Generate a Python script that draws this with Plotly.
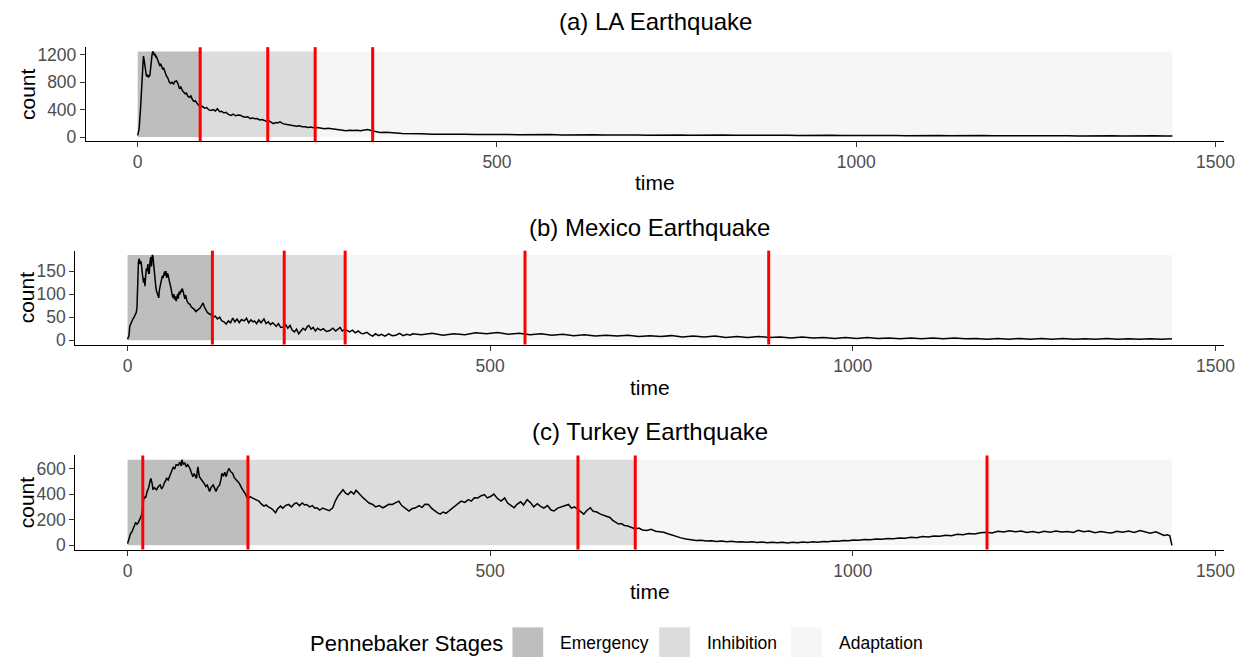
import plotly.graph_objects as go

W, H = 1255, 662
FONT = "Liberation Sans, Arial, sans-serif"

panel_titles = ["(a) LA Earthquake", "(b) Mexico Earthquake", "(c) Turkey Earthquake"]
stage_names = ["Emergency", "Inhibition", "Adaptation"]
stage_colors = ["#bebebe", "#dcdcdc", "#f6f6f6"]
x_ticks = [0, 500, 1000, 1500]
time_end = 1440

# (a) LA earthquake: (minute, tweet count)
la_series = [
    (0, 25), (2, 120), (4, 420), (6, 800), (7, 1050), (8, 1180), (9, 1120), (10, 1030), (11, 960), (12, 900),
    (13, 880), (14, 910), (15, 870), (16, 880), (17, 900), (18, 1000), (19, 1150), (20, 1200), (21, 1248), (22, 1230),
    (23, 1190), (24, 1215), (25, 1170), (26, 1176), (28, 1120), (30, 1060), (31, 1033), (32, 1070), (34, 990), (35, 985),
    (36, 1010), (38, 940), (40, 890), (42, 860), (44, 800), (46, 780), (48, 800), (50, 775), (52, 810), (54, 818),
    (56, 780), (58, 713), (60, 730), (62, 680), (64, 650), (66, 630), (68, 640), (70, 590), (72, 578), (74, 600),
    (76, 550), (78, 520), (80, 530), (82, 490), (84, 470), (86, 455), (88, 440), (90, 450), (93, 420), (96, 430),
    (99, 395), (102, 387), (105, 400), (108, 380), (111, 412), (114, 370), (117, 375), (120, 350), (123, 360), (126, 330),
    (130, 316), (133, 335), (136, 310), (140, 320), (143, 316), (146, 300), (150, 290), (153, 295), (157, 268), (160, 280),
    (163, 265), (166, 270), (170, 250), (173, 255), (175, 244), (179, 230), (182, 240), (186, 215), (189, 196), (192, 210),
    (195, 205), (198, 220), (202, 195), (206, 185), (210, 180), (214, 175), (218, 168), (221, 158), (225, 165), (229, 150),
    (233, 150), (237, 140), (241, 145), (245, 134), (250, 138), (255, 130), (260, 120), (265, 128), (270, 118), (275, 110),
    (280, 105), (285, 98), (290, 91), (295, 100), (300, 95), (305, 100), (310, 92), (315, 105), (320, 110), (325, 95),
    (330, 80), (337, 67), (345, 70), (352, 60), (360, 58), (368, 50), (376, 52), (383, 43), (395, 46), (410, 40),
    (425, 43), (440, 38), (455, 41), (470, 36), (485, 39), (500, 34), (515, 38), (530, 33), (545, 36), (560, 32),
    (575, 35), (590, 31), (605, 34), (620, 30), (635, 33), (650, 29), (665, 32), (680, 28), (695, 31), (710, 27),
    (725, 30), (740, 27), (755, 29), (770, 26), (785, 29), (800, 25), (815, 28), (830, 25), (845, 27), (860, 24),
    (875, 27), (890, 24), (905, 26), (920, 23), (935, 26), (950, 22), (965, 25), (980, 22), (995, 24), (1010, 21),
    (1025, 24), (1040, 21), (1055, 23), (1070, 20), (1085, 23), (1100, 20), (1115, 22), (1130, 19), (1145, 22), (1160, 19),
    (1175, 21), (1190, 18), (1205, 21), (1220, 18), (1235, 20), (1250, 17), (1265, 20), (1280, 17), (1295, 19), (1310, 16),
    (1325, 19), (1340, 16), (1355, 18), (1370, 15), (1385, 18), (1400, 15), (1415, 17), (1430, 14), (1440, 15),
]
la_stage_bounds = [0, 87, 247, time_end]
la_breaks = [87, 181, 247, 327]
la_y_ticks = [0, 400, 800, 1200]

# (b) Mexico earthquake
mx_series = [
    (0, 2), (2, 10), (3, 30), (5, 39), (7, 45), (9, 50), (10, 53), (12, 60), (13, 71), (14, 141),
    (15, 170), (16, 177), (17, 165), (18, 172), (19, 166), (20, 150), (21, 134), (22, 125), (23, 135), (24, 117),
    (25, 140), (26, 156), (27, 150), (28, 165), (29, 145), (30, 145), (31, 170), (32, 180), (33, 160), (34, 185),
    (35, 182), (36, 160), (37, 141), (38, 125), (39, 115), (40, 106), (41, 100), (42, 95), (43, 92), (44, 110),
    (45, 120), (46, 125), (47, 131), (48, 140), (49, 135), (50, 148), (51, 149), (52, 140), (53, 150), (54, 135),
    (55, 145), (56, 141), (57, 130), (58, 125), (59, 120), (60, 110), (61, 100), (62, 95), (63, 92), (64, 100),
    (65, 88), (66, 95), (67, 85), (68, 92), (69, 100), (70, 90), (71, 105), (72, 99), (73, 108), (74, 104),
    (75, 112), (76, 110), (77, 100), (78, 95), (79, 90), (80, 98), (81, 88), (82, 85), (84, 80), (86, 78),
    (88, 72), (90, 70), (92, 67), (94, 62), (96, 65), (98, 66), (100, 70), (102, 75), (104, 81), (106, 72),
    (108, 64), (110, 60), (112, 58), (115, 55), (118, 50), (121, 52), (124, 46), (127, 50), (130, 42), (133, 40),
    (136, 35), (139, 42), (142, 38), (145, 48), (148, 40), (151, 46), (154, 38), (157, 45), (161, 42), (164, 48),
    (167, 38), (170, 44), (173, 40), (175, 42), (178, 36), (181, 44), (184, 38), (188, 46), (191, 36), (194, 40),
    (197, 34), (200, 38), (202, 35), (205, 30), (208, 36), (211, 28), (215, 28), (218, 34), (221, 26), (224, 32),
    (227, 22), (230, 18), (233, 24), (236, 14), (239, 20), (242, 26), (245, 22), (248, 30), (250, 32), (253, 24),
    (256, 28), (259, 20), (262, 26), (266, 22), (270, 25), (274, 19), (279, 21), (283, 26), (287, 20), (290, 25),
    (293, 28), (296, 20), (300, 24), (303, 21), (306, 18), (310, 22), (314, 16), (318, 20), (322, 15), (325, 14),
    (330, 17), (334, 12), (338, 9), (342, 14), (346, 10), (350, 13), (355, 9), (360, 14), (365, 10), (370, 11),
    (375, 15), (380, 10), (385, 13), (390, 11), (393, 14), (405, 12), (420, 15), (435, 11), (450, 14), (465, 12),
    (480, 16), (495, 14), (510, 17), (525, 13), (540, 15), (555, 12), (570, 14), (585, 11), (600, 13), (615, 10),
    (630, 12), (645, 9), (660, 11), (675, 9), (690, 11), (705, 8), (720, 10), (735, 8), (750, 10), (765, 7),
    (780, 9), (795, 7), (810, 9), (825, 6), (840, 8), (855, 6), (870, 8), (885, 6), (900, 7), (915, 5),
    (930, 7), (945, 5), (960, 6), (975, 4), (990, 6), (1005, 4), (1020, 6), (1035, 4), (1050, 5), (1065, 3),
    (1080, 5), (1095, 3), (1110, 5), (1125, 3), (1140, 5), (1155, 3), (1170, 4), (1185, 2), (1200, 4), (1215, 2),
    (1230, 4), (1245, 2), (1260, 4), (1275, 2), (1290, 4), (1305, 2), (1320, 3), (1335, 2), (1350, 4), (1365, 2),
    (1380, 3), (1395, 2), (1410, 3), (1425, 2), (1440, 3),
]
mx_stage_bounds = [0, 117, 300, time_end]
mx_breaks = [117, 216, 300, 548, 884]
mx_y_ticks = [0, 50, 100, 150]

# (c) Turkey earthquake
tr_series = [
    (0, 13), (2, 50), (4, 89), (6, 105), (8, 128), (10, 160), (11, 179), (13, 165), (15, 179), (17, 200),
    (19, 230), (21, 290), (22, 357), (24, 380), (25, 370), (27, 420), (29, 447), (31, 500), (32, 523), (34, 480),
    (35, 434), (37, 450), (40, 434), (42, 455), (45, 472), (47, 440), (49, 459), (51, 490), (54, 523), (56, 510),
    (58, 541), (60, 575), (63, 612), (65, 595), (67, 630), (70, 625), (72, 650), (74, 620), (75, 668), (77, 630),
    (79, 645), (81, 612), (83, 630), (86, 600), (88, 570), (90, 536), (92, 560), (95, 523), (97, 612), (99, 536),
    (101, 520), (104, 498), (106, 480), (108, 459), (110, 470), (113, 421), (115, 450), (118, 472), (120, 440), (122, 421),
    (124, 450), (127, 472), (129, 520), (130, 561), (132, 540), (134, 570), (136, 536), (138, 580), (140, 600), (142, 575),
    (145, 561), (147, 530), (150, 510), (152, 495), (154, 485), (157, 450), (159, 434), (161, 420), (163, 396), (166, 357),
    (169, 380), (172, 370), (175, 360), (178, 350), (181, 345), (184, 325), (188, 306), (191, 315), (194, 300), (197, 293),
    (200, 280), (204, 255), (207, 285), (211, 306), (214, 290), (218, 312), (222, 319), (226, 300), (230, 325), (233, 332),
    (237, 310), (241, 330), (244, 315), (247, 319), (251, 300), (255, 310), (258, 290), (261, 293), (265, 275), (269, 290),
    (274, 281), (278, 270), (283, 293), (286, 340), (290, 383), (294, 410), (297, 434), (301, 405), (304, 396), (308, 420),
    (312, 400), (315, 429), (318, 410), (321, 390), (325, 370), (329, 350), (333, 330), (338, 319), (342, 300), (347, 310),
    (352, 293), (356, 305), (360, 320), (365, 319), (369, 330), (374, 345), (378, 310), (383, 290), (388, 268), (392, 285),
    (397, 293), (402, 310), (406, 295), (410, 320), (415, 319), (419, 290), (423, 270), (427, 255), (431, 243), (435, 260),
    (439, 250), (443, 268), (447, 290), (451, 310), (456, 332), (460, 345), (465, 335), (470, 357), (474, 345), (478, 372),
    (483, 370), (487, 385), (492, 396), (496, 370), (501, 383), (505, 400), (510, 365), (515, 345), (520, 370), (524, 330),
    (529, 310), (533, 293), (537, 320), (542, 340), (546, 315), (551, 357), (556, 330), (560, 300), (565, 325), (569, 306),
    (574, 290), (579, 310), (584, 275), (588, 268), (593, 290), (598, 300), (603, 310), (608, 319), (612, 290), (616, 300),
    (621, 281), (625, 265), (629, 243), (633, 270), (638, 293), (642, 265), (647, 260), (652, 243), (656, 235), (661, 225),
    (665, 217), (669, 195), (673, 180), (677, 166), (681, 170), (685, 155), (689, 153), (693, 145), (697, 140), (700, 128),
    (705, 135), (710, 120), (716, 115), (722, 125), (728, 110), (734, 108), (739, 102), (745, 90), (751, 78), (757, 64),
    (763, 58), (770, 50), (777, 44), (784, 38), (791, 40), (798, 33), (805, 36), (812, 30), (819, 33), (826, 28),
    (833, 31), (840, 26), (847, 28), (854, 24), (861, 27), (868, 22), (875, 25), (882, 20), (889, 24), (896, 20),
    (903, 23), (910, 19), (917, 23), (924, 20), (931, 25), (938, 22), (945, 27), (952, 24), (959, 30), (966, 28),
    (973, 34), (980, 31), (987, 38), (994, 35), (1001, 42), (1008, 39), (1016, 46), (1024, 43), (1032, 50), (1040, 47),
    (1048, 54), (1056, 51), (1064, 58), (1072, 55), (1080, 63), (1088, 60), (1096, 68), (1104, 65), (1112, 73), (1120, 70),
    (1128, 78), (1136, 75), (1144, 86), (1152, 82), (1160, 92), (1168, 88), (1176, 98), (1184, 102), (1192, 96), (1200, 110),
    (1208, 104), (1216, 114), (1224, 106), (1232, 112), (1240, 100), (1248, 108), (1256, 98), (1264, 110), (1272, 102), (1280, 112),
    (1288, 104), (1296, 108), (1304, 100), (1311, 118), (1318, 106), (1326, 112), (1334, 98), (1342, 108), (1350, 100), (1357, 97),
    (1364, 110), (1372, 102), (1380, 112), (1388, 100), (1396, 115), (1402, 107), (1410, 95), (1418, 105), (1425, 90), (1429, 77),
    (1434, 82), (1437, 75), (1440, 0),
]
tr_stage_bounds = [0, 166, 700, time_end]
tr_breaks = [21, 166, 621, 700, 1185]
tr_y_ticks = [0, 200, 400, 600]

panels = [
    (la_series, la_stage_bounds, la_breaks, la_y_ticks),
    (mx_series, mx_stage_bounds, mx_breaks, mx_y_ticks),
    (tr_series, tr_stage_bounds, tr_breaks, tr_y_ticks),
]

# panel boxes in pixels: (left, right, top, bottom)
boxes = [(86.7, 1235, 45.7, 141), (76, 1235, 251.7, 346.7), (76, 1235, 459, 554.3)]
title_y = [20, 228, 435]
xlabel_y = [183, 390, 597]


def fx(px):
    return px / W


def fy(py):
    return 1 - py / H


fig = go.Figure()
shapes = []
annotations = []
layout_axes = {}

for i, (series, bounds, breaks, yticks) in enumerate(panels):
    t = [p[0] for p in series]
    c = [p[1] for p in series]
    n = "" if i == 0 else str(i + 1)
    xa, ya = "x" + n, "y" + n
    left, right, top, bottom = boxes[i]
    top_val = max(c)
    pad_x = 0.05 * time_end
    pad_y = 0.05 * top_val

    fig.add_trace(go.Scatter(x=t, y=c, mode="lines", xaxis=xa, yaxis=ya,
                             line=dict(color="black", width=1.5), showlegend=False,
                             hoverinfo="x+y"))

    # stage shading
    for k in range(3):
        shapes.append(dict(type="rect", xref=xa, yref=ya, x0=bounds[k], x1=bounds[k + 1],
                           y0=0, y1=top_val, fillcolor=stage_colors[k], line=dict(width=0),
                           layer="below"))
    # stage break markers
    for b in breaks:
        shapes.append(dict(type="line", xref=xa, yref=ya + " domain", x0=b, x1=b, y0=0, y1=1,
                           line=dict(color="#ff0000", width=3), layer="above"))

    axis_common = dict(showline=True, linecolor="black", linewidth=1.2, ticks="outside",
                       ticklen=5, tickwidth=1.1, tickcolor="#333333", showgrid=False,
                       zeroline=False, tickfont=dict(family=FONT, size=17.5, color="#4d4d4d"))
    layout_axes["xaxis" + n] = dict(axis_common, domain=[fx(left), fx(right)], anchor=ya,
                                    range=[-pad_x, time_end + pad_x], tickvals=x_ticks)
    layout_axes["yaxis" + n] = dict(axis_common, domain=[fy(bottom), fy(top)], anchor=xa,
                                    range=[-pad_y, top_val + pad_y], tickvals=yticks)

    cx = (left + right) / 2
    annotations.append(dict(text=panel_titles[i], x=fx(cx), y=fy(title_y[i]), xref="paper",
                            yref="paper", showarrow=False, xanchor="center", yanchor="middle",
                            font=dict(family=FONT, size=24, color="black")))
    annotations.append(dict(text="time", x=fx(cx), y=fy(xlabel_y[i]), xref="paper", yref="paper",
                            showarrow=False, xanchor="center", yanchor="middle",
                            font=dict(family=FONT, size=21, color="black")))
    annotations.append(dict(text="count", x=fx(27), y=fy((top + bottom) / 2), xref="paper",
                            yref="paper", showarrow=False, xanchor="center", yanchor="middle",
                            textangle=-90, font=dict(family=FONT, size=21, color="black")))

# legend for the stages
legend_y = 649
annotations.append(dict(text="Pennebaker Stages", x=fx(311), y=fy(legend_y), xref="paper",
                        yref="paper", showarrow=False, xanchor="left", yanchor="middle",
                        font=dict(family=FONT, size=22, color="black")))
key_x = [517, 665, 798]
for k in range(3):
    shapes.append(dict(type="rect", xref="paper", yref="paper", x0=fx(key_x[k]), x1=fx(key_x[k] + 31),
                       y0=fy(663), y1=fy(633), fillcolor=stage_colors[k], line=dict(width=0)))
    annotations.append(dict(text=stage_names[k], x=fx(key_x[k] + 46), y=fy(legend_y), xref="paper",
                            yref="paper", showarrow=False, xanchor="left", yanchor="middle",
                            font=dict(family=FONT, size=17.5, color="black")))

fig.update_layout(width=W, height=H, margin=dict(l=0, r=0, t=0, b=0),
                  paper_bgcolor="white", plot_bgcolor="white", showlegend=False,
                  shapes=shapes, annotations=annotations, **layout_axes)

fig.write_html("out.html")
